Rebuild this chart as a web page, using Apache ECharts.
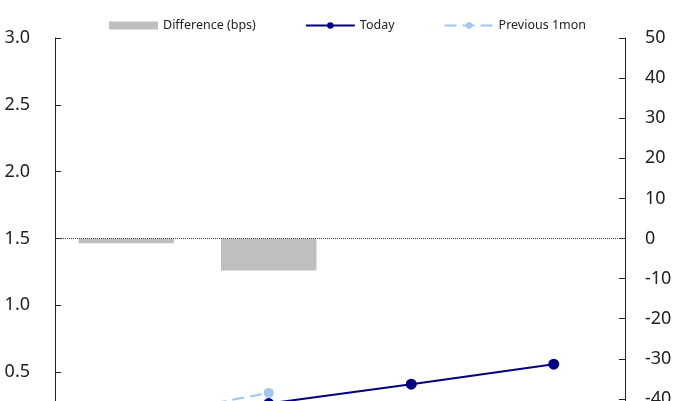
<!DOCTYPE html>
<html>
<head>
<meta charset="utf-8">
<script src="https://cdn.jsdelivr.net/npm/echarts@6/dist/echarts.min.js"></script>
<style>
  html, body { margin: 0; padding: 0; background: #fff; overflow: hidden; }
  #chart { width: 694px; height: 500px; }
</style>
</head>
<body>
<div id="chart"></div>
<script>
// Tenors on the curve
const categories = ['1Y', '3Y', '5Y', '10Y'];
// Yields (%), left axis
const today = [0.13, 0.265, 0.41, 0.56];
const previous1mon = [0.142, 0.345, null, null];
// Change over the month (bps), right axis
const differenceBps = [-1.2, -8, null, null];

const leftTicks = { min: 0, max: 3, interval: 0.5 };
const rightTicks = { min: -50, max: 50, interval: 10 };

const FONT = '"Noto Sans", "Open Sans", sans-serif';
const AXIS_COLOR = '#222';

const chart = echarts.init(document.getElementById('chart'), null, { renderer: 'canvas' });

chart.setOption({
  animation: false,
  backgroundColor: '#fff',
  textStyle: { fontFamily: FONT },
  legend: {
    left: 104,
    top: 14,
    itemWidth: 49,
    itemHeight: 8,
    itemGap: 49,
    textStyle: { fontFamily: FONT, fontSize: 12.5, color: '#222' },
    data: [
      { name: 'Difference (bps)', icon: 'rect' },
      'Today',
      'Previous 1mon'
    ]
  },
  grid: { left: 55, right: 69, top: 38, bottom: 61, containLabel: false },
  xAxis: {
    type: 'category',
    data: categories,
    axisLine: { lineStyle: { color: AXIS_COLOR } },
    axisTick: { show: false },
    axisLabel: { fontFamily: FONT, fontSize: 18, color: '#222' }
  },
  yAxis: [
    {
      type: 'value',
      position: 'left',
      min: leftTicks.min,
      max: leftTicks.max,
      interval: leftTicks.interval,
      axisLine: { show: true, lineStyle: { color: AXIS_COLOR, width: 1 } },
      axisTick: { show: true, inside: true, length: 6, lineStyle: { color: AXIS_COLOR } },
      splitLine: { show: false },
      axisLabel: {
        fontFamily: FONT, fontSize: 18, color: '#222', margin: 25,
        formatter: v => v.toFixed(1)
      }
    },
    {
      type: 'value',
      position: 'right',
      min: rightTicks.min,
      max: rightTicks.max,
      interval: rightTicks.interval,
      axisLine: { show: true, lineStyle: { color: AXIS_COLOR, width: 1 } },
      axisTick: { show: true, inside: true, length: 6, lineStyle: { color: AXIS_COLOR } },
      splitLine: { show: false },
      axisLabel: { fontFamily: FONT, fontSize: 18, color: '#222', margin: 20 }
    }
  ],
  series: [
    {
      name: 'Difference (bps)',
      type: 'bar',
      yAxisIndex: 1,
      data: differenceBps,
      barWidth: '67%',
      itemStyle: { color: '#BFBFBF' },
      markLine: {
        silent: true,
        symbol: 'none',
        label: { show: false },
        lineStyle: { color: '#444', type: 'dotted', width: 1 },
        data: [{ yAxis: 0 }]
      }
    },
    {
      name: 'Previous 1mon',
      type: 'line',
      yAxisIndex: 0,
      data: previous1mon,
      symbol: 'circle',
      symbolSize: 10,
      lineStyle: { color: '#A3C6EC', width: 2, type: [12, 6] },
      itemStyle: { color: '#A3C6EC' },
      z: 3
    },
    {
      name: 'Today',
      type: 'line',
      yAxisIndex: 0,
      data: today,
      symbol: 'circle',
      symbolSize: 11,
      lineStyle: { color: '#000080', width: 2 },
      itemStyle: { color: '#000080' },
      z: 4
    }
  ]
});
</script>
</body>
</html>
